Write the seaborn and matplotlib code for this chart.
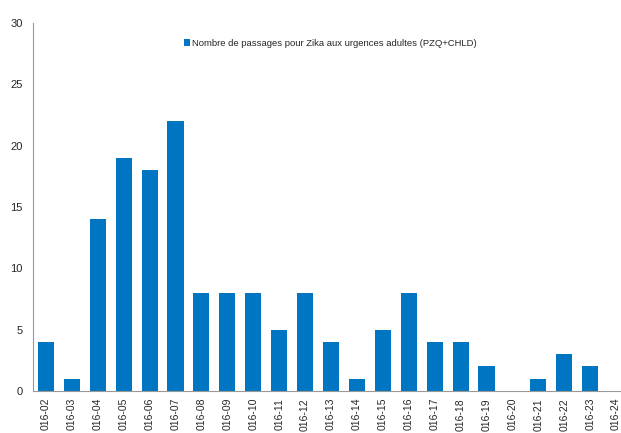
import numpy as np
import pandas as pd
import matplotlib
matplotlib.use("Agg")
import matplotlib.pyplot as plt
import seaborn as sns

sns.set_style("white")
plt.rcParams["font.family"] = ["Liberation Sans", "DejaVu Sans"]

weeks = ["016-02", "016-03", "016-04", "016-05", "016-06", "016-07", "016-08",
         "016-09", "016-10", "016-11", "016-12", "016-13", "016-14", "016-15",
         "016-16", "016-17", "016-18", "016-19", "016-20", "016-21", "016-22",
         "016-23", "016-24"]
passages = [4, 1, 14, 19, 18, 22, 8, 8, 8, 5, 8, 4, 1, 5, 8, 4, 4, 2, 0, 1, 3, 2, 0]
label = "Nombre de passages pour Zika aux urgences adultes (PZQ+CHLD)"

df = pd.DataFrame({"Semaine": weeks, "Passages": passages})

fig = plt.figure(figsize=(6.21, 4.33), dpi=100)
ax = fig.add_axes([33 / 621, 42 / 433, 596 / 621, 368 / 433])
sns.barplot(data=df, x="Semaine", y="Passages", color="#0075C2", width=0.62,
            saturation=1, label=label, linewidth=0, ax=ax)

ax.set_ylim(0, 30)
ax.set_yticks(range(0, 31, 5))
ax.set_xlim(-0.5, len(weeks) - 0.5)
ax.set_xlabel("")
ax.set_ylabel("")

# Excel-style ticks between categories
ax.set_xticks(np.arange(len(weeks)))
ax.set_xticklabels(weeks, rotation=90, fontsize=7.5)
ax.set_xticks(np.arange(-0.5, len(weeks)), minor=True)
ax.tick_params(axis="x", which="major", length=0, pad=5)
ax.tick_params(axis="x", which="minor", length=4, color="#999999", direction="out")
ax.tick_params(axis="y", length=4, color="#999999", direction="out", labelsize=8)

for side in ["top", "right"]:
    ax.spines[side].set_visible(False)
for side in ["left", "bottom"]:
    ax.spines[side].set_color("#999999")
    ax.spines[side].set_linewidth(0.8)

ax.legend(loc="upper center", bbox_to_anchor=(0.532, 0.93), frameon=False,
          fontsize=6.8, handlelength=0.7, handleheight=0.7, handletextpad=0.2,
          bbox_transform=fig.transFigure)

fig.savefig("out.png", dpi=100)
